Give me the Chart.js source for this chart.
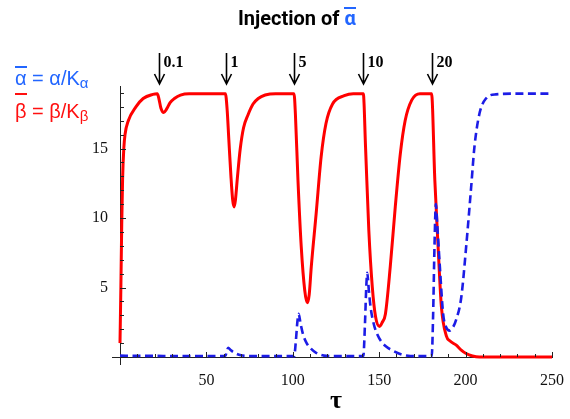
<!DOCTYPE html>
<html>
<head>
<meta charset="utf-8">
<script src="https://cdn.jsdelivr.net/npm/chart.js@4.4.1/dist/chart.umd.min.js"></script>
<style>
  html, body { margin: 0; padding: 0; background: #fff; }
  #wrap { position: relative; width: 570px; height: 419px; overflow: hidden; }
  #chart { position: absolute; left: 0; top: 0; }
  .title { position: absolute; left: 238px; top: 8px; font: 700 20px Roboto, "Liberation Sans", sans-serif; line-height: 1; color: #000; white-space: nowrap; }
  .eq { position: absolute; left: 15px; font: 20px "Liberation Sans", Arial, sans-serif; line-height: 1; white-space: nowrap; }
  .eq sub { font-size: 15px; vertical-align: -3px; line-height: 1; }
  .bar { position: relative; display: inline-block; }
  .bar::before { content: ""; position: absolute; left: 0; right: 0; height: 2px; background: currentColor; }
  .blue { color: #2266ff; }
  .red { color: #ff1010; }
  #eqA { top: 68px; }
  #eqA .bar::before { top: -2px; }
  #eqB { top: 101px; }
  #eqB .bar::before { top: -8px; }
  .title .bar::before { top: -1px; }
</style>
</head>
<body>
<div id="wrap">
  <canvas id="chart" width="570" height="419"></canvas>
  <div class="title">Injection of <span class="bar blue">α</span></div>
  <div class="eq blue" id="eqA"><span class="bar">α</span> = α/K<sub>α</sub></div>
  <div class="eq red" id="eqB"><span class="bar">β</span> = β/K<sub>β</sub></div>
</div>
<script>
// beta-bar (solid red)
const tauBeta = [0, 0.5, 1, 1.5, 2.2, 2.9, 4.8, 9.2, 13.4, 19, 21.6,
  22.5, 23.7, 25.3, 27, 29, 31.5, 35, 40, 61,
  62, 63, 64.2, 65.2, 66, 66.8, 68, 69.6, 71.5, 74, 77, 80, 84, 90, 100.7,
  101.5, 103, 104.9, 106.9, 108.4, 109.5, 110.7, 113.5, 116.4, 119.2, 123, 129.8, 135, 140.8,
  142.1, 144, 146, 147.9, 150.2, 151.8, 153.6, 156.4, 159.3, 162.2, 165, 168.9, 173.6, 180.3,
  182.2, 184.1, 186, 188.9, 191, 194.6, 197.5, 200.3, 204, 208, 250];
const betaBar = [1, 5, 9.5, 12.8, 15, 16, 17, 18, 18.6, 18.9, 18.95,
  18.6, 17.9, 17.6, 17.85, 18.3, 18.6, 18.85, 18.95, 18.95,
  17.8, 15.6, 13, 11.3, 10.8, 11.3, 13, 15, 16.5, 17.4, 18.2, 18.6, 18.85, 18.95, 18.95,
  17.5, 12.7, 7.9, 4.8, 3.9, 4.5, 6.5, 10.3, 14.4, 16.8, 18.2, 18.8, 18.95, 18.95,
  15.1, 9.1, 5.05, 2.9, 2.2, 2.5, 3.1, 6.5, 10.8, 14.6, 17, 18.5, 18.95, 18.95,
  12.7, 7.9, 3.6, 1.5, 1.15, 0.85, 0.5, 0.25, 0.07, 0, 0];

// alpha-bar (dashed blue)
const tauAlpha = [0, 10, 20, 30, 40, 50, 61,
  61.8, 62.6, 64, 66.8, 70, 75, 90, 100.8,
  101.8, 102.7, 103.4, 104.5, 106, 108, 110.5, 113.5, 118, 125, 140.8,
  141.8, 142.5, 143.1, 144, 145, 147, 149, 151, 154, 158, 163, 168, 180.4,
  181.2, 182, 182.8, 183.6, 185.1, 187, 188.9, 190.8, 192.5, 194.6, 197.5, 200.3,
  203.2, 205.1, 208, 211.8, 217.5, 230, 250];
const alphaBar = [0.1, 0.08, 0.08, 0.07, 0.07, 0.07, 0.07,
  0.4, 0.67, 0.5, 0.27, 0.12, 0.07, 0.06, 0.06,
  1.2, 2.6, 3.1, 2.4, 1.6, 1.0, 0.6, 0.3, 0.1, 0.06, 0.06,
  2.5, 5, 6.05, 4.8, 3.6, 2.3, 1.6, 1.15, 0.75, 0.45, 0.18, 0.07, 0.06,
  3, 8, 11, 9.5, 6.5, 3.1, 2.1, 1.9, 2.1, 2.7, 4.3, 7.9,
  12.2, 15.1, 17.5, 18.6, 18.9, 18.95, 18.95];

// injections of alpha-bar: time and dose
const injectTimes = [22.5, 61.3, 100.8, 140.7, 180.3];
const injectDoses = ["0.1", "1", "5", "10", "20"];

const serif = '"Liberation Serif", "Times New Roman", serif';

// Mathematica-style inward ticks, axis stubs and injection arrows
const axisDecor = {
  id: "axisDecor",
  afterDraw(chart) {
    const { ctx, chartArea: a, scales: { x, y } } = chart;
    ctx.save();
    ctx.strokeStyle = "#222";
    ctx.lineWidth = 1;
    ctx.beginPath();
    ctx.moveTo(a.left - 8, a.bottom + 0.5);
    ctx.lineTo(a.left, a.bottom + 0.5);
    ctx.moveTo(a.left + 0.5, a.bottom);
    ctx.lineTo(a.left + 0.5, a.bottom + 8);
    x.ticks.forEach((t) => {
      if (t.value <= 0) return;
      const px = Math.round(x.getPixelForValue(t.value)) + 0.5;
      const len = t.value % 50 === 0 ? 5 : 3;
      ctx.moveTo(px, a.bottom);
      ctx.lineTo(px, a.bottom - len);
    });
    y.ticks.forEach((t) => {
      if (t.value <= 0 || t.value % 1 !== 0) return;
      const py = Math.round(y.getPixelForValue(t.value)) + 0.5;
      const len = t.value % 5 === 0 ? 6 : 4;
      ctx.moveTo(a.left, py);
      ctx.lineTo(a.left + len, py);
    });
    ctx.stroke();

    ctx.strokeStyle = "#000";
    ctx.fillStyle = "#000";
    ctx.lineWidth = 1.6;
    ctx.font = "bold 16px " + serif;
    ctx.textBaseline = "alphabetic";
    injectTimes.forEach((t, i) => {
      const px = Math.round(x.getPixelForValue(t)) + 0.5;
      const tip = a.top - 2;
      ctx.beginPath();
      ctx.moveTo(px, tip - 31);
      ctx.lineTo(px, tip);
      ctx.moveTo(px - 5, tip - 10);
      ctx.lineTo(px, tip);
      ctx.lineTo(px + 5, tip - 10);
      ctx.stroke();
      ctx.fillText(injectDoses[i], px + 4, a.top - 19);
    });
    ctx.restore();
  }
};

new Chart(document.getElementById("chart"), {
  type: "line",
  data: {
    datasets: [
      {
        label: "alpha",
        data: tauAlpha.map((t, i) => ({ x: t, y: alphaBar[i] })),
        borderColor: "#1c1ce6",
        borderWidth: 2.6,
        borderDash: [8, 4.5],
        pointRadius: 0,
        cubicInterpolationMode: "monotone",
        clip: false
      },
      {
        label: "beta",
        data: tauBeta.map((t, i) => ({ x: t, y: betaBar[i] })),
        borderColor: "#ff0000",
        borderWidth: 3,
        pointRadius: 0,
        cubicInterpolationMode: "monotone",
        clip: false
      }
    ]
  },
  options: {
    responsive: false,
    animation: false,
    events: [],
    layout: { padding: { left: 0, right: 13, top: 86, bottom: 2 } },
    plugins: { legend: { display: false }, tooltip: { enabled: false } },
    scales: {
      x: {
        type: "linear",
        min: 0,
        max: 250,
        grid: { display: false },
        border: { display: true, color: "#222", width: 1 },
        ticks: {
          stepSize: 10,
          autoSkip: false,
          maxRotation: 0,
          padding: 6,
          color: "#111",
          font: { family: serif, size: 16 },
          callback: (v) => (v > 0 && v % 50 === 0 ? v : "")
        },
        title: {
          display: true,
          text: "τ",
          color: "#000",
          padding: 0,
          font: { family: serif, size: 26, weight: "bold" }
        },
        afterFit: (s) => { s.height = 60; }
      },
      y: {
        min: 0,
        max: 19.5,
        grid: { display: false },
        border: { display: true, color: "#222", width: 1 },
        ticks: {
          stepSize: 1,
          includeBounds: false,
          autoSkip: false,
          padding: 4,
          color: "#111",
          font: { family: serif, size: 16 },
          callback: (v) => (v > 0 && v % 5 === 0 ? v : "")
        },
        afterFit: (s) => { s.width = 120; }
      }
    }
  },
  plugins: [axisDecor]
});
</script>
</body>
</html>
